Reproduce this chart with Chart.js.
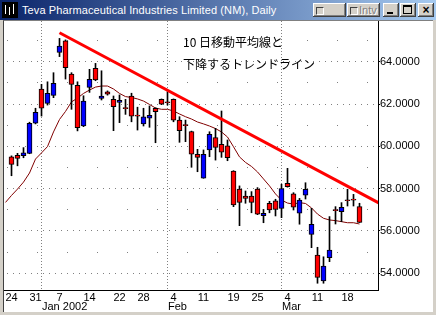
<!DOCTYPE html>
<html>
<head>
<meta charset="utf-8">
<script src="https://cdn.jsdelivr.net/npm/chart.js@4"></script>
<style>
html, body { margin: 0; padding: 0; }
body { width: 436px; height: 315px; background: #d4d0c8; position: relative; overflow: hidden; font-family: "Liberation Sans", Arial, sans-serif; }
#title { position: absolute; left: 0; top: 0; width: 436px; height: 20px; background: linear-gradient(to right, #0a246a, #a6caf0); }
#title .cap { position: absolute; left: 22px; top: 3px; color: #fff; font-size: 11px; line-height: 14px; white-space: nowrap; letter-spacing: 0.1px; }
#icon { position: absolute; left: 2px; top: 2px; width: 16px; height: 16px; background: #000; }
#icon i { position: absolute; background: #fff; width: 1px; }
.btn { position: absolute; top: 3px; height: 14px; background: #d4d0c8; box-shadow: inset -1px -1px #404040, inset 1px 1px #fff, inset -2px -2px #808080; font-size: 11px; line-height: 14px; color: #000; }
.chk { display: inline-block; width: 6px; height: 6px; margin: 0 1px 0 3px; border: 1px solid #404040; border-right-color: #fff; border-bottom-color: #fff; vertical-align: -1px; }
#frame { position: absolute; left: 3px; top: 20px; width: 429px; height: 291px; border-left: 1px solid #404040; border-top: 1px solid #808080; background: #fff; }
#chartBox { position: absolute; left: 4px; top: 21px; width: 428px; height: 290px; }
#note { position: absolute; left: 183px; top: 31px; font-family: "Noto Sans CJK JP", sans-serif; font-size: 12px; line-height: 22px; color: #000; white-space: nowrap; }
</style>
</head>
<body>
<div id="title">
  <div id="icon"><i style="left:3px;top:3px;height:9px"></i><i style="left:7px;top:5px;height:8px"></i><i style="left:11px;top:2px;height:10px"></i></div>
  <div class="cap">Teva Pharmaceutical Industries Limited (NM), Daily</div>
  <div class="btn" style="left:313px;width:33px"><span class="chk"></span>Sym</div>
  <div class="btn" style="left:347px;width:33px;color:#808080;text-shadow:1px 1px #fff"><span class="chk"></span>Intv</div>
  <div class="btn" style="left:383px;width:16px"><div style="position:absolute;left:4px;top:9px;width:6px;height:2px;background:#000"></div></div>
  <div class="btn" style="left:400px;width:16px"><div style="position:absolute;left:3px;top:2px;width:7px;height:6px;border:1px solid #000;border-top-width:2px"></div></div>
  <div class="btn" style="left:418px;width:16px;text-align:center;font-weight:bold;font-size:12px">×</div>
</div>
<div id="frame"></div>
<div id="chartBox"><canvas id="myChart" width="428" height="290"></canvas></div>
<div id="note">10 日移動平均線と<br>下降するトレンドライン</div>
<script>
// trading days shown on the chart
const dates = [
  '2001-12-24', '2001-12-26', '2001-12-27', '2001-12-28', '2001-12-31',
  '2002-01-02', '2002-01-03', '2002-01-04', '2002-01-07', '2002-01-08', '2002-01-09', '2002-01-10', '2002-01-11',
  '2002-01-14', '2002-01-15', '2002-01-16', '2002-01-17', '2002-01-18', '2002-01-22', '2002-01-23', '2002-01-24',
  '2002-01-25', '2002-01-28', '2002-01-29', '2002-01-30', '2002-01-31',
  '2002-02-01', '2002-02-04', '2002-02-05', '2002-02-06', '2002-02-07', '2002-02-08', '2002-02-11', '2002-02-12',
  '2002-02-13', '2002-02-14', '2002-02-15', '2002-02-19', '2002-02-20', '2002-02-21', '2002-02-22', '2002-02-25',
  '2002-02-26', '2002-02-27', '2002-02-28',
  '2002-03-01', '2002-03-04', '2002-03-05', '2002-03-06', '2002-03-07', '2002-03-08', '2002-03-11', '2002-03-12',
  '2002-03-13', '2002-03-14', '2002-03-15', '2002-03-18', '2002-03-19', '2002-03-20'
];

const opens = [
  59.51, 59.58, 59.56, 59.67, 61.09,
  62.70, 62.03, 62.41, 64.44, 64.98, 63.42, 62.88, 60.96,
  62.79, 63.69, 62.27, 62.57, 62.22, 62.08, 61.78, 62.38,
  61.43, 61.06, 61.33, 61.80, 62.22,
  62.06, 62.22, 61.24, 60.98, 60.70, 59.62, 58.49, 59.83,
  60.41, 60.10, 60.02, 58.83, 57.98, 57.65, 57.65, 57.98,
  56.72, 57.31, 57.42,
  57.07, 58.25, 57.75, 56.84, 57.69, 55.84, 54.86, 53.64,
  54.74, 56.96, 56.91, 57.43, 57.46, 57.15
];
const highs = [
  59.55, 59.67, 59.94, 61.14, 61.80,
  62.93, 63.05, 63.48, 65.10, 65.03, 63.48, 63.05, 62.39,
  63.64, 63.92, 63.57, 62.62, 62.38, 62.43, 62.22, 62.51,
  61.85, 61.80, 61.91, 61.82, 62.24,
  62.58, 62.24, 61.40, 61.24, 60.72, 59.86, 59.83, 60.69,
  60.85, 61.67, 60.30, 58.85, 58.13, 57.89, 57.86, 58.05,
  57.02, 57.40, 57.50,
  58.21, 58.96, 57.81, 57.54, 58.28, 57.07, 55.23, 54.78,
  56.68, 57.15, 57.34, 57.97, 57.73, 57.31
];
const lows = [
  58.61, 59.08, 59.46, 59.65, 61.06,
  61.43, 61.95, 62.30, 64.24, 63.18, 61.75, 60.73, 60.93,
  62.55, 63.10, 62.19, 62.42, 60.74, 61.12, 61.51, 61.16,
  60.77, 60.96, 60.90, 60.17, 61.97,
  61.95, 61.16, 60.19, 60.22, 59.01, 58.80, 58.49, 59.51,
  59.35, 59.48, 59.32, 57.15, 56.25, 57.31, 56.86, 56.77,
  56.39, 56.86, 56.71,
  56.63, 58.07, 56.99, 56.32, 57.51, 55.21, 53.53, 53.53,
  54.55, 56.33, 56.44, 57.18, 57.18, 56.40
];
const closes = [
  59.15, 59.43, 59.69, 61.09, 61.61,
  61.80, 62.51, 62.98, 64.74, 63.72, 62.93, 60.88, 62.14,
  63.17, 63.14, 62.38, 62.46, 61.87, 62.17, 61.78, 61.43,
  61.43, 61.40, 61.47, 61.64, 61.99,
  62.06, 61.24, 60.74, 60.98, 59.63, 59.48, 59.62, 60.57,
  59.95, 59.72, 59.46, 57.23, 57.35, 57.54, 57.35, 56.79,
  56.84, 56.99, 57.02,
  58.00, 58.09, 57.12, 57.46, 57.97, 56.32, 53.81, 54.34,
  55.10, 56.96, 57.12, 57.43, 57.46, 56.41
];

// 10-day moving average (first value is the day before the first candle)
const maStart = -1;
const ma10 = [
  57.35, 57.68, 57.98, 58.31, 58.74, 59.40,
  59.69, 59.99, 60.68, 61.27, 61.65, 62.10, 62.28, 62.50,
  62.66, 62.80, 62.85, 62.85, 62.71, 62.50, 62.35, 62.31,
  62.24, 62.14, 61.98, 61.81, 61.75,
  61.75, 61.67, 61.53, 61.40, 61.29, 61.15, 61.06, 60.96,
  60.84, 60.68, 60.44, 59.98, 59.50, 59.24, 59.05, 58.79,
  58.46, 58.13, 57.75,
  57.46, 57.32, 57.27, 57.34, 57.30, 57.09, 56.80, 56.60,
  56.52, 56.49, 56.44, 56.39, 56.39, 56.33
];

// falling trend line (day index, price)
const trendIdx = [8, 61.2];
const trendVal = [65.37, 57.33];

const tickDates = ['2001-12-24', '2001-12-31', '2002-01-07', '2002-01-14', '2002-01-22', '2002-01-28',
  '2002-02-04', '2002-02-11', '2002-02-19', '2002-02-25', '2002-03-04', '2002-03-11', '2002-03-18'];
const monthLabels = ['Jan 2002', 'Feb', 'Mar'];

// first trading day of each month after the first one
const monthStarts = [];
dates.forEach((d, i) => {
    if (i > 0 && d.slice(0, 7) !== dates[i - 1].slice(0, 7)) monthStarts.push(i);
});

const bodies = dates.map((d, i) => ({ x: i, y: [opens[i], closes[i]] }));
const wicks = dates.map((d, i) => ({ x: i, y: [lows[i], highs[i]] }));
const bodyColors = dates.map((d, i) => closes[i] > opens[i] ? '#0000ff' : '#ff0000');
const maPoints = ma10.map((v, k) => ({ x: maStart + k, y: v }));
const trendPoints = trendIdx.map((v, k) => ({ x: v, y: trendVal[k] }));

const dotGrid = {
    id: 'dotGrid',
    beforeDatasetsDraw(chart) {
        const { ctx, chartArea: a, scales: { x, y } } = chart;
        ctx.save();
        ctx.strokeStyle = '#808080';
        ctx.lineWidth = 1;
        for (let v = Math.ceil(y.min); v <= Math.floor(y.max); v++) {
            const py = Math.round(y.getPixelForValue(v) - 0.5) + 0.5;
            ctx.setLineDash(v % 2 === 0 ? [1, 5] : [1, 29]);
            ctx.beginPath();
            ctx.moveTo(a.left + 3, py);
            ctx.lineTo(a.right, py);
            ctx.stroke();
        }
        ctx.setLineDash([1, 2]);
        monthStarts.forEach(i => {
            const px = Math.floor(x.getPixelForValue(i)) + 0.5;
            ctx.beginPath();
            ctx.moveTo(px, a.top);
            ctx.lineTo(px, a.bottom);
            ctx.stroke();
        });
        ctx.restore();
    },
    afterDraw(chart) {
        const { ctx, scales: { x } } = chart;
        ctx.save();
        ctx.fillStyle = '#000';
        ctx.font = '11px "Liberation Sans", Arial, sans-serif';
        ctx.textBaseline = 'middle';
        ctx.textAlign = 'left';
        ctx.fillText(monthLabels[0], Math.floor(x.getPixelForValue(monthStarts[0])) + 1, 285.5);
        ctx.fillText(monthLabels[1], Math.floor(x.getPixelForValue(monthStarts[1])) + 1, 285.5);
        ctx.fillText(monthLabels[2], Math.floor(x.getPixelForValue(monthStarts[2])) + 1, 285.5);
        ctx.restore();
    }
};

Chart.defaults.font.family = '"Liberation Sans", Arial, sans-serif';
Chart.defaults.font.size = 11;
Chart.defaults.color = '#000';

let ctx = document.getElementById('myChart').getContext('2d');
let myChart = new Chart(ctx, {
    type: 'bar',
    data: {
        datasets: [
            {
                type: 'line',
                label: 'trend',
                data: trendPoints,
                borderColor: '#ff0000',
                borderWidth: 3,
                pointRadius: 0,
                fill: false,
                order: 0
            },
            {
                label: 'body',
                data: bodies,
                backgroundColor: bodyColors,
                borderColor: '#000',
                borderWidth: 1,
                borderSkipped: false,
                barThickness: 5,
                minBarLength: 1,
                grouped: false,
                order: 1
            },
            {
                label: 'wick',
                data: wicks,
                backgroundColor: '#000',
                borderWidth: 0,
                barThickness: 1,
                grouped: false,
                order: 2
            },
            {
                type: 'line',
                label: 'MA 10',
                data: maPoints,
                borderColor: '#800000',
                borderWidth: 1,
                pointRadius: 0,
                fill: false,
                order: 3
            }
        ]
    },
    options: {
        responsive: false,
        animation: false,
        events: [],
        layout: { padding: 0 },
        plugins: { legend: { display: false }, tooltip: { enabled: false } },
        scales: {
            x: {
                type: 'linear',
                position: 'bottom',
                min: -1.25,
                max: 61.0833,
                offset: false,
                grid: { display: false, drawTicks: false, offset: false },
                border: { display: true, color: '#000', width: 1 },
                ticks: {
                    padding: 1,
                    maxRotation: 0,
                    autoSkip: false,
                    callback: (v) => String(Number(dates[v].slice(8)))
                },
                afterBuildTicks: (scale) => {
                    scale.ticks = tickDates.map(d => ({ value: dates.indexOf(d) }));
                },
                afterFit: (scale) => {
                    scale.height = 21;
                    scale.paddingLeft = 0;
                    scale.paddingRight = 0;
                }
            },
            y: {
                type: 'linear',
                position: 'right',
                min: 53.211,
                max: 65.923,
                grid: {
                    display: true,
                    drawOnChartArea: false,
                    drawTicks: true,
                    tickLength: 2,
                    tickColor: (c) => c.tick && c.tick.value % 2 === 0 ? '#000' : 'rgba(0,0,0,0)'
                },
                border: { display: true, color: '#000', width: 1 },
                ticks: {
                    padding: 0,
                    callback: (v) => v % 2 === 0 ? v.toFixed(4) : ''
                },
                afterBuildTicks: (scale) => {
                    const t = [];
                    for (let v = Math.ceil(scale.min); v <= Math.floor(scale.max); v++) t.push({ value: v });
                    scale.ticks = t;
                },
                afterFit: (scale) => {
                    scale.width = 54;
                    scale.paddingTop = 0;
                    scale.paddingBottom = 0;
                }
            }
        }
    },
    plugins: [dotGrid]
});
</script>
</body>
</html>
